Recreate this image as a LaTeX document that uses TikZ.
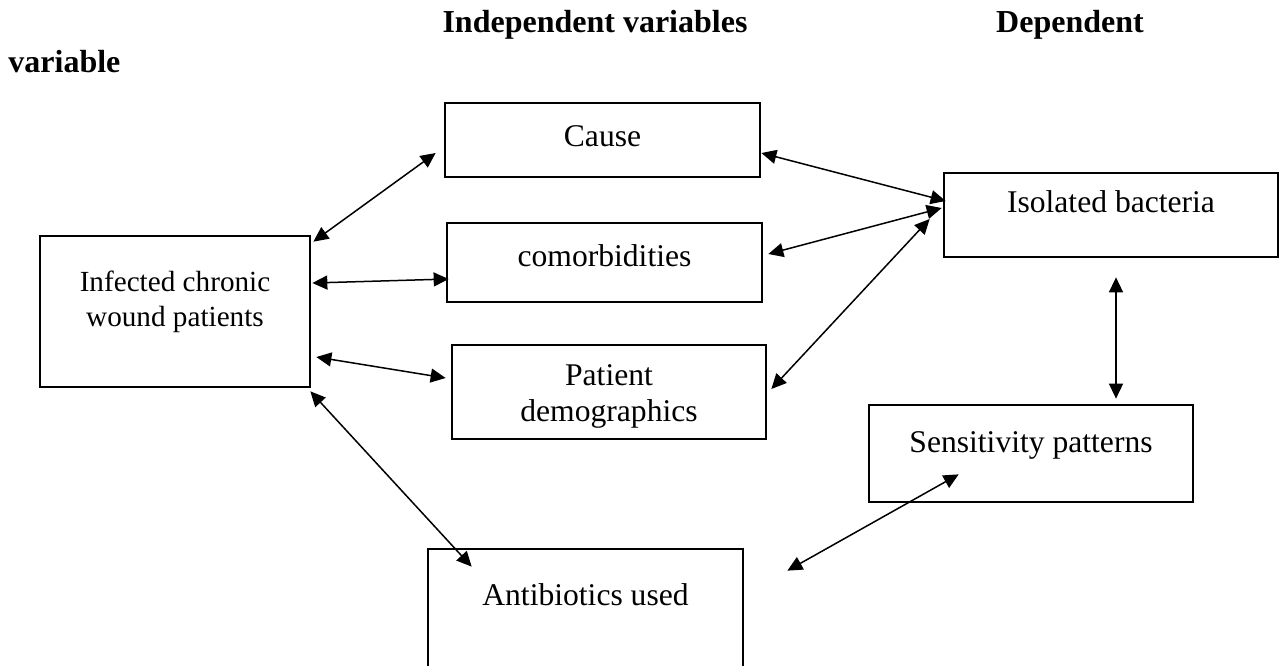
\documentclass[tikz,border=0pt]{standalone}
\usepackage{fontspec}
\setmainfont{Liberation Serif}
\usetikzlibrary{arrows.meta, calc}

\begin{document}
\begin{tikzpicture}[x=0.5pt, y=-0.5pt, font=\fontsize{15.8}{18}\selectfont]
    % Define line widths
    \def\boxLine{1.35pt}
    \def\arrowLine{0.75pt}

    \tikzset{
        varbox/.style={draw, line width=\boxLine, inner sep=0pt},
        link/.style={{Triangle[length=7.5pt,width=7pt]}-{Triangle[length=7.5pt,width=7pt]}, line width=\arrowLine},
        heading/.style={font=\fontsize{16}{18}\selectfont\bfseries, anchor=base, inner sep=0pt}
    }

    % Fix the page size
    \useasboundingbox (0,0) rectangle (1288,665);

    % Headings
    \node[heading] (indep) at (595,32) {Independent variables};
    \node[heading] (dep) at (1070,32) {Dependent};
    \node[heading, anchor=base west] (depvar) at (8,72) {variable};

    % Draw the variable boxes
    \node[varbox, minimum width=135pt, minimum height=75.5pt,
        label={[align=center, font=\fontsize{14.6}{17.5}\selectfont, yshift=4.75pt]center:Infected chronic\\wound patients}] (infected) at (175,311.5) {};
    \node[varbox, minimum width=157.5pt, minimum height=37pt,
        label={[yshift=2pt]center:Cause}] (cause) at (602.5,140) {};
    \node[varbox, minimum width=157.5pt, minimum height=39.5pt,
        label={[yshift=3.5pt]center:comorbidities}] (comor) at (604.5,262.5) {};
    \node[varbox, minimum width=157pt, minimum height=47pt,
        label={[align=center, yshift=-2pt]center:Patient\\demographics}] (patient) at (609,392) {};
    \node[varbox, minimum width=157.5pt, minimum height=65.5pt,
        label={[yshift=9.75pt]center:Antibiotics used}] (anti) at (585.5,614.5) {};
    \node[varbox, minimum width=167pt, minimum height=42pt,
        label={[yshift=6.5pt]center:Isolated bacteria}] (iso) at (1111,215) {};
    \node[varbox, minimum width=162pt, minimum height=48.5pt,
        label={[yshift=4pt]center:Sensitivity patterns}] (sens) at (1031,453.5) {};

    % Free end of the last connector
    \coordinate (sensend) at ($(anti.north east)+(43,23)$);

    % Draw the connectors
    \draw[link] ($(infected.north east)+(2,7)$) -- ($(cause.west)+(-8,13)$);
    \draw[link] ($(infected.east)+(1,-28.5)$) -- ($(comor.west)+(3,16.5)$);
    \draw[link] ($(infected.east)+(5,45.5)$) -- ($(patient.west)+(-5,-14)$);
    \draw[link] ($(infected.south east)+(-1,3)$) -- ($(anti.north west)+(45,19)$);
    \draw[link] ($(cause.east)+(0,13)$) -- ($(iso.west)+(3,-14)$);
    \draw[link] ($(comor.east)+(5,-8.5)$) -- ($(iso.west)+(-1,-7)$);
    \draw[link] ($(patient.east)+(4,-3)$) -- ($(iso.west)+(-13,4)$);
    \draw[link] ($(iso.south)+(5,19)$) -- ($(sens.north)+(85,-5)$);
    \draw[link] (sensend) -- ($(sens.south west)+(91,-29)$);
\end{tikzpicture}
\end{document}
